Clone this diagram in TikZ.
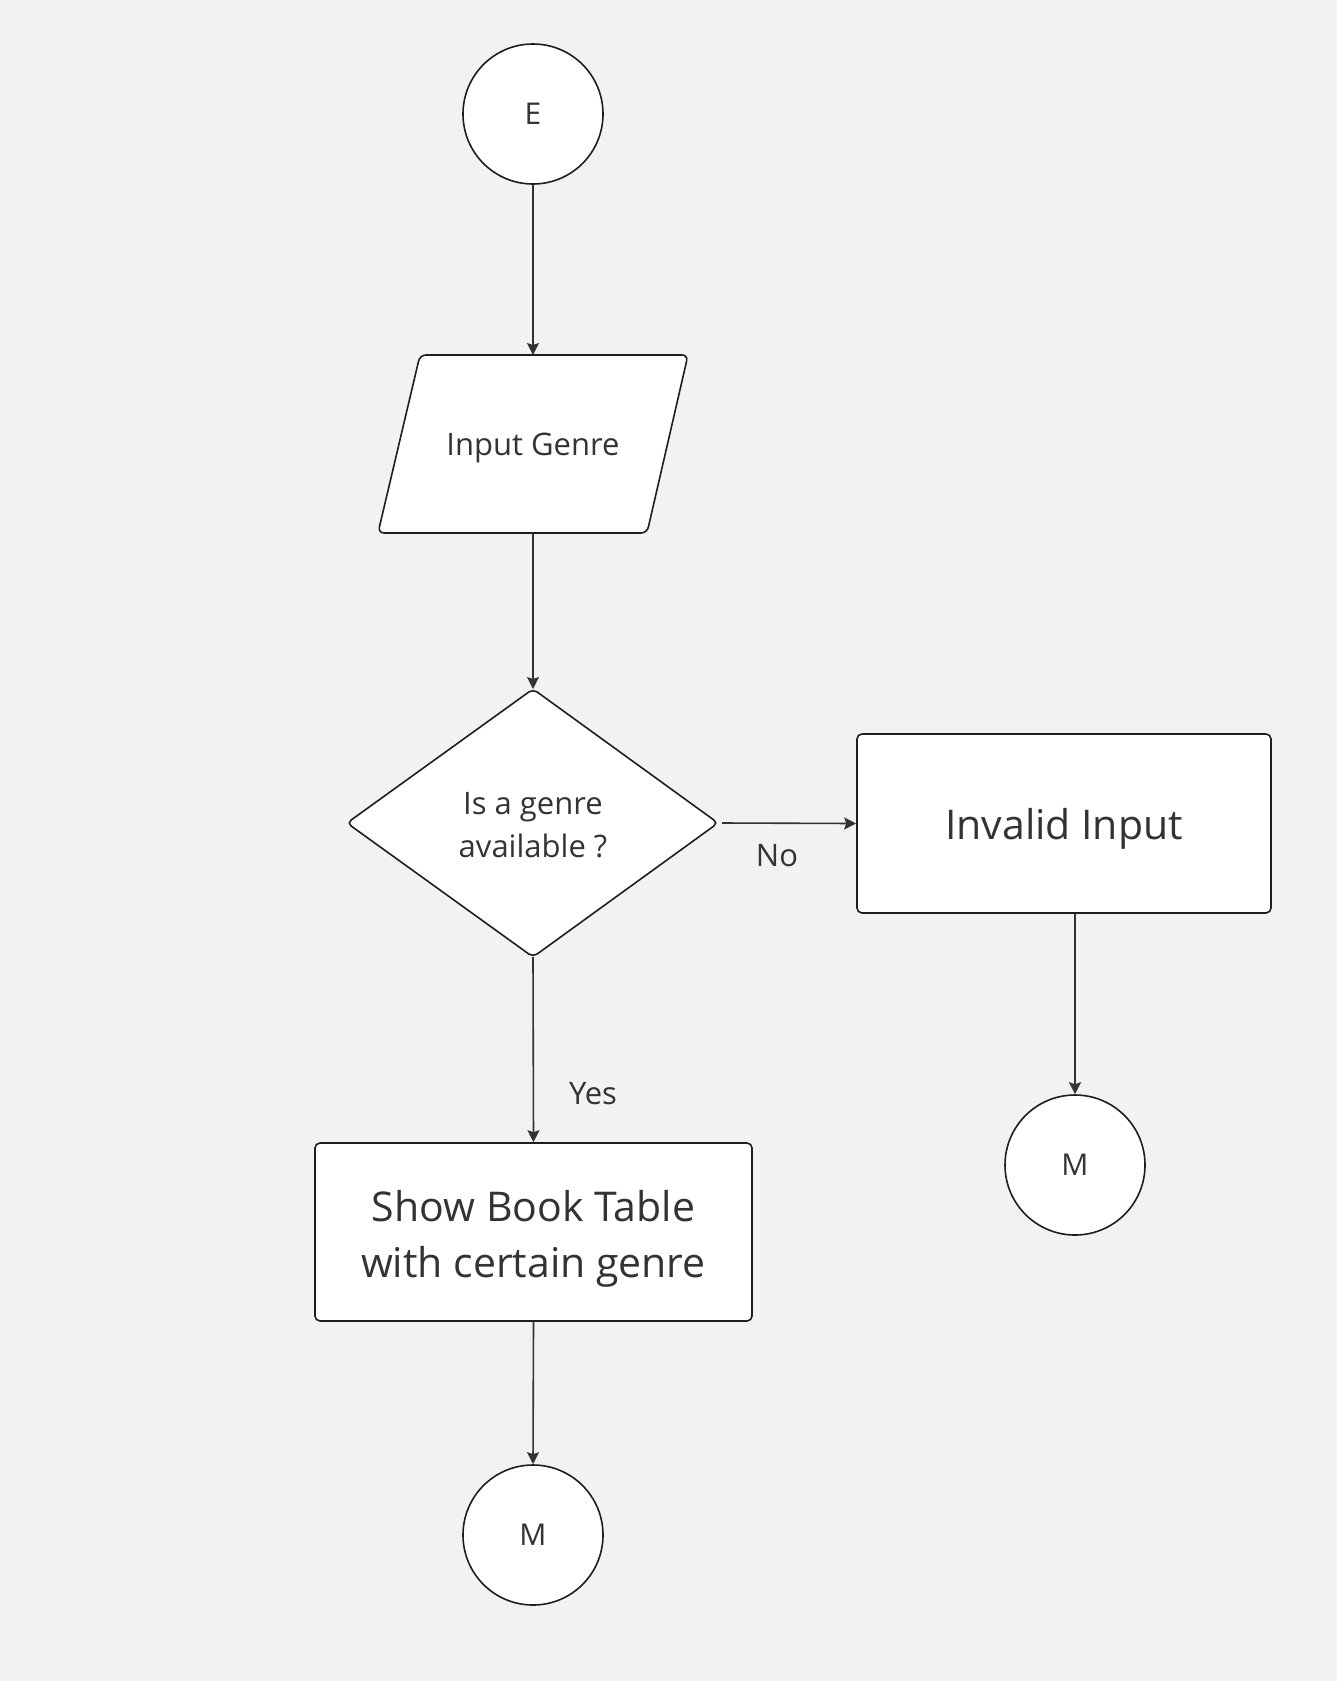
\documentclass[tikz,border=0pt]{standalone}
\usepackage{fontspec}
\setmainfont{Open Sans}
\usetikzlibrary{arrows.meta}
\definecolor{bgc}{HTML}{F2F2F2}
\definecolor{ink}{HTML}{333333}
\definecolor{linec}{HTML}{1E1E1E}
\tikzset{
  shapeline/.style={draw=linec, line width=1.6pt, fill=white},
  termcirc/.style={shapeline, circle, minimum size=140pt, inner sep=0pt, text=ink, font=\fontsize{30}{36}\selectfont},
  procbox/.style={shapeline, rectangle, rounded corners=5pt, inner sep=0pt},
  conn/.style={draw=ink, line width=1.6pt, -{Stealth[length=12pt,width=12pt,inset=2pt]}},
  lbl/.style={text=ink, font=\fontsize{31}{36}\selectfont, inner sep=0pt},
}
\begin{document}
\begin{tikzpicture}[x=1pt,y=-1pt]
\useasboundingbox[fill=bgc] (0,0) rectangle (1337,1681);

% start circle
\node[termcirc] (E) at (533,114) {E};

% parallelogram (input)
\draw[shapeline, rounded corners=6pt] (420,355) -- (688,355) -- (647,533) -- (378,533) -- cycle;
\coordinate (inTop) at (533,355);
\coordinate (inBot) at (533,533);
\node[lbl] (inText) at (533,448) {Input Genre};

% decision diamond
\draw[shapeline, rounded corners=5pt] (533,689) -- (718,823) -- (533,957) -- (347,823) -- cycle;
\coordinate (decTop) at (533,689);
\coordinate (decBot) at (533,957);
\coordinate (decRight) at (722,823);
\node[lbl, align=center, font=\fontsize{31}{43}\selectfont] (decText) at (533,825) {Is a genre\\available ?};

% process boxes
\node[procbox, minimum width=414pt, minimum height=179pt] (invalid) at (1064,823.5) {};
\node[lbl, font=\fontsize{41}{48}\selectfont] (invText) at (1064,829) {Invalid Input};
\node[procbox, minimum width=437pt, minimum height=178pt] (show) at (533.5,1232) {};
\node[lbl, align=center, font=\fontsize{41}{56}\selectfont] (showText) at (533.5,1239) {Show Book Table\\with certain genre};

% end circles
\node[termcirc] (M2) at (1075,1165) {M};
\node[termcirc] (M1) at (533,1535) {M};

% connectors
\draw[conn] (E.south) -- (inTop);
\draw[conn] (inBot) -- (decTop);
\draw[conn] (decRight) -- (invalid.west);
\draw[conn] (invalid.south -| M2.north) -- (M2.north);
\draw[conn] (decBot) -- (show.north);
\draw[conn] (show.south) -- (M1.north);

% labels
\node[lbl] (noLbl) at (777,856) {No};
\node[lbl] (yesLbl) at (593,1094) {Yes};
\end{tikzpicture}
\end{document}
